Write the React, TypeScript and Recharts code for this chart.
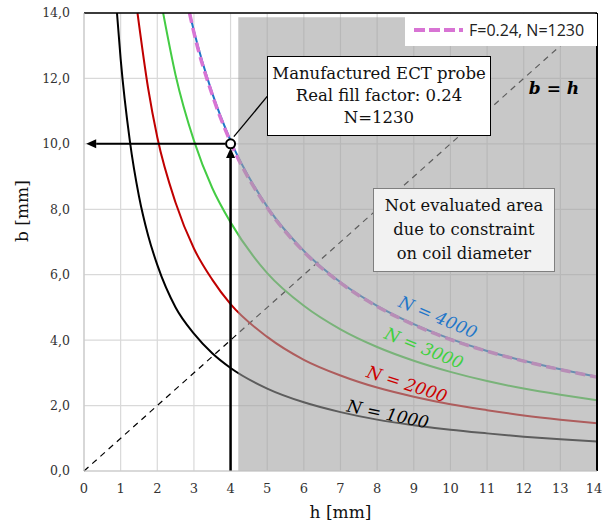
import React from "react";
import {
  LineChart,
  Line,
  XAxis,
  YAxis,
  CartesianGrid,
  ReferenceArea,
  ReferenceLine,
  ReferenceDot,
  Legend,
} from "recharts";

// axis ticks
const hTicks = [0, 1, 2, 3, 4, 5, 6, 7, 8, 9, 10, 11, 12, 13, 14];
const bTicks = [0, 2, 4, 6, 8, 10, 12, 14];

// coil height b [mm] over coil width h [mm] for a given number of turns
const n1000H = [0.9, 1.0, 1.25, 1.5, 1.75, 2, 2.5, 3, 3.5, 4, 5, 6, 7, 8, 9, 10, 11, 12, 13, 14];
const n1000B = [14.0, 12.6, 10.1, 8.4, 7.2, 6.3, 5.0, 4.2, 3.6, 3.15, 2.52, 2.1, 1.8, 1.57, 1.4, 1.26, 1.15, 1.05, 0.97, 0.9];

const n2000H = [1.46, 1.75, 2, 2.5, 3, 3.5, 4, 5, 6, 7, 8, 9, 10, 11, 12, 13, 14];
const n2000B = [14.0, 11.7, 10.2, 8.2, 6.8, 5.85, 5.1, 4.1, 3.4, 2.92, 2.55, 2.27, 2.04, 1.86, 1.7, 1.57, 1.46];

const n3000H = [2.16, 2.5, 3, 3.5, 4, 5, 6, 7, 8, 9, 10, 11, 12, 13, 14];
const n3000B = [14.0, 12.1, 10.1, 8.65, 7.6, 6.05, 5.05, 4.33, 3.79, 3.37, 3.03, 2.75, 2.52, 2.33, 2.16];

const n4000H = [2.88, 3, 3.5, 4, 5, 6, 7, 8, 9, 10, 11, 12, 13, 14];
const n4000B = [14.0, 13.45, 11.55, 10.1, 8.08, 6.73, 5.77, 5.05, 4.49, 4.04, 3.67, 3.37, 3.11, 2.88];

// real probe: fill factor 0.24, 1230 turns
const probeH = [2.88, 3, 3.5, 4, 5, 6, 7, 8, 9, 10, 11, 12, 13, 14];
const probeB = [14.0, 13.4, 11.5, 10.05, 8.05, 6.7, 5.75, 5.03, 4.47, 4.02, 3.66, 3.36, 3.1, 2.87];

const probePoint = { h: 4, b: 10 };
const maxCoilWidth = 4.21;

const zip = (hs: number[], bs: number[]) => hs.map((h, i) => ({ h, b: bs[i] }));

const serif = "'DejaVu Serif', serif";

const fmtB = (v: number) => v.toFixed(1).replace(".", ",");

// x tick; the last one is nudged in so it stays inside the frame
const HTick = (props: any) => {
  const { x, y, payload } = props;
  const last = payload.value === hTicks[hTicks.length - 1];
  return (
    <text
      x={last ? x - 3 : x}
      y={y}
      dy="0.71em"
      textAnchor="middle"
      fill="#333"
      fontFamily={serif}
      fontSize={13}
    >
      {payload.value}
    </text>
  );
};

// line with a filled arrow head at (x2, y2)
const arrowShape = (props: any) => {
  const { x1, y1, x2, y2, stroke, strokeWidth } = props;
  const a = Math.atan2(y2 - y1, x2 - x1);
  const len = 10;
  const half = 4.5;
  const bx = x2 - len * Math.cos(a);
  const by = y2 - len * Math.sin(a);
  const pts = [
    `${x2},${y2}`,
    `${bx + half * Math.sin(a)},${by - half * Math.cos(a)}`,
    `${bx - half * Math.sin(a)},${by + half * Math.cos(a)}`,
  ].join(" ");
  return (
    <g>
      <line x1={x1} y1={y1} x2={bx} y2={by} stroke={stroke} strokeWidth={strokeWidth} />
      <polygon points={pts} fill={stroke} />
    </g>
  );
};

const legendContent = () => (
  <div
    style={{
      background: "#fff",
      height: 32,
      display: "flex",
      alignItems: "center",
      fontFamily: "'Open Sans', sans-serif",
      fontSize: 16,
      color: "#222",
    }}
  >
    <svg width={56} height={10} style={{ marginLeft: 8 }}>
      <line x1={1} y1={5} x2={50} y2={5} stroke="#d874d4" strokeWidth={4} strokeDasharray="11 4" />
    </svg>
    <span>F=0.24, N=1230</span>
  </div>
);

const curveLabels = [
  { text: "N = 4000", x: 438, y: 317, angle: 23, color: "#1f76c8" },
  { text: "N = 3000", x: 424, y: 348, angle: 22, color: "#3fd03f" },
  { text: "N = 2000", x: 407, y: 384, angle: 18, color: "#cc0000" },
  { text: "N = 1000", x: 388, y: 414, angle: 12, color: "#000" },
];

export default function App() {
  return (
    <div style={{ position: "absolute", left: 0, top: 0, width: 603, height: 527, background: "#fff" }}>
      <LineChart width={603} height={527} margin={{ top: 13, right: 6, bottom: 0, left: 0 }}>
        <CartesianGrid stroke="#d9d9d9" strokeWidth={1.2} />
        <XAxis
          type="number"
          dataKey="h"
          domain={[0, 14]}
          ticks={hTicks}
          interval={0}
          height={56}
          stroke="#c6c6c6"
          tickLine={false}
          tickSize={0}
          tickMargin={13}
          tick={<HTick />}
          label={{ value: "h [mm]", position: "insideBottom", offset: 9, fill: "#111", fontFamily: serif, fontSize: 17 }}
        />
        <YAxis
          type="number"
          dataKey="b"
          domain={[0, 14]}
          ticks={bTicks}
          interval={0}
          width={84}
          stroke="#c6c6c6"
          tickLine={false}
          tickSize={0}
          tickMargin={14}
          tickFormatter={fmtB}
          tick={{ fill: "#333", fontFamily: serif, fontSize: 12.5 }}
          label={{ value: "b [mm]", angle: -90, position: "insideLeft", offset: 22, fill: "#111", fontFamily: serif, fontSize: 17 }}
        />

        <ReferenceLine
          segment={[{ x: 0, y: 0 }, { x: 14, y: 14 }]}
          stroke="#000"
          strokeWidth={1.2}
          strokeDasharray="6 5"
          zIndex={350}
        />

        <Line data={zip(n1000H, n1000B)} dataKey="b" type="monotone" stroke="#000" strokeWidth={2} dot={false} legendType="none" isAnimationActive={false} />
        <Line data={zip(n2000H, n2000B)} dataKey="b" type="monotone" stroke="#c00000" strokeWidth={2} dot={false} legendType="none" isAnimationActive={false} />
        <Line data={zip(n3000H, n3000B)} dataKey="b" type="monotone" stroke="#44cc44" strokeWidth={2} dot={false} legendType="none" isAnimationActive={false} />
        <Line data={zip(n4000H, n4000B)} dataKey="b" type="monotone" stroke="#1f76c8" strokeWidth={2} dot={false} legendType="none" isAnimationActive={false} />
        <Line
          data={zip(probeH, probeB)}
          dataKey="b"
          name="F=0.24, N=1230"
          type="monotone"
          stroke="#d874d4"
          strokeWidth={3.5}
          strokeDasharray="10 5"
          dot={false}
          isAnimationActive={false}
        />

        {/* region outside the coil diameter constraint */}
        <ReferenceArea
          x1={maxCoilWidth}
          x2={14}
          y1={0}
          y2={13.87}
          fill="#a0a0a0"
          fillOpacity={0.58}
          stroke="none"
          ifOverflow="visible"
          zIndex={450}
        />

        <ReferenceLine
          segment={[{ x: 4, y: 0 }, { x: 4, y: 9.87 }]}
          stroke="#000"
          strokeWidth={2.5}
          shape={arrowShape}
          zIndex={460}
        />
        <ReferenceLine
          segment={[{ x: 3.86, y: 10 }, { x: 0.06, y: 10 }]}
          stroke="#000"
          strokeWidth={2}
          shape={arrowShape}
          zIndex={460}
        />
        <ReferenceLine
          segment={[{ x: 4.09, y: 10.22 }, { x: 5.0, y: 11.45 }]}
          stroke="#000"
          strokeWidth={1.3}
          zIndex={460}
        />
        <ReferenceDot
          x={probePoint.h}
          y={probePoint.b}
          r={4.5}
          fill="#fff"
          stroke="#000"
          strokeWidth={2}
          zIndex={470}
        />

        <ReferenceLine y={14} stroke="#000" strokeWidth={1.5} zIndex={480} />
        <ReferenceLine x={14} stroke="#000" strokeWidth={2} zIndex={480} />

        <Legend
          layout="vertical"
          align="center"
          verticalAlign="middle"
          content={legendContent}
          wrapperStyle={{ left: 405, top: 14, width: 192, height: 32 }}
        />
      </LineChart>

      <div
        style={{
          position: "absolute",
          left: 267,
          top: 56,
          width: 222,
          height: 78,
          background: "#fff",
          border: "1.5px solid #000",
          fontFamily: serif,
          fontSize: 16.5,
          lineHeight: "22px",
          color: "#111",
          textAlign: "center",
          display: "flex",
          flexDirection: "column",
          justifyContent: "center",
        }}
      >
        <div>Manufactured ECT probe</div>
        <div>Real fill factor: 0.24</div>
        <div>N=1230</div>
      </div>

      <div
        style={{
          position: "absolute",
          left: 373,
          top: 188,
          width: 180,
          height: 82,
          background: "#f2f2f2",
          border: "1.5px solid #7f7f7f",
          fontFamily: serif,
          fontSize: 16.3,
          lineHeight: "24px",
          color: "#111",
          textAlign: "center",
          display: "flex",
          flexDirection: "column",
          justifyContent: "center",
        }}
      >
        <div>Not evaluated area</div>
        <div>due to constraint</div>
        <div>on coil diameter</div>
      </div>

      <div
        style={{
          position: "absolute",
          left: 554,
          top: 88,
          transform: "translate(-50%, -50%)",
          fontFamily: serif,
          fontStyle: "italic",
          fontWeight: "bold",
          fontSize: 17,
          color: "#000",
          whiteSpace: "nowrap",
        }}
      >
        b = h
      </div>

      {curveLabels.map((l) => (
        <div
          key={l.text}
          style={{
            position: "absolute",
            left: l.x,
            top: l.y,
            transform: `translate(-50%, -50%) rotate(${l.angle}deg)`,
            fontFamily: serif,
            fontStyle: "italic",
            fontSize: 17,
            color: l.color,
            whiteSpace: "nowrap",
          }}
        >
          {l.text}
        </div>
      ))}
    </div>
  );
}
